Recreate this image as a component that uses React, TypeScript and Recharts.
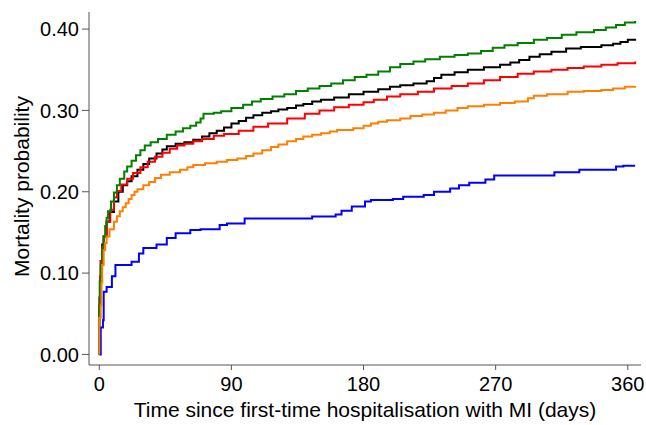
import { LineChart, Line, XAxis, YAxis } from "recharts";

const FONT = '"Liberation Sans", Arial, Helvetica, sans-serif';
const AXIS = "#555555";

const dayTicks = [0, 90, 180, 270, 360];
const riskTicks = [0, 0.1, 0.2, 0.3, 0.4];

// [day, cumulative mortality], step curves
const green: [number, number][] = [
  [0, 0], [0, 0.055], [0.3, 0.09], [1, 0.11], [2, 0.13], [3, 0.145], [4, 0.158], [5, 0.168],
  [6, 0.176], [8, 0.188], [10, 0.199], [12, 0.208], [14, 0.216], [17, 0.225], [19, 0.231],
  [22, 0.238], [25, 0.245], [28, 0.251], [31, 0.257], [35, 0.261], [40, 0.265], [46, 0.27],
  [52, 0.274], [57, 0.278], [62, 0.281], [66, 0.285], [69, 0.29], [71, 0.296], [78, 0.297],
  [83, 0.299], [90, 0.303], [98, 0.307], [104, 0.311], [110, 0.314], [118, 0.317], [126, 0.32],
  [134, 0.324], [142, 0.327], [150, 0.33], [158, 0.333], [166, 0.337], [174, 0.341], [182, 0.344],
  [190, 0.348], [198, 0.353], [205, 0.357], [214, 0.36], [222, 0.363], [232, 0.366], [242, 0.368],
  [251, 0.37], [260, 0.373], [268, 0.377], [276, 0.38], [285, 0.383], [296, 0.387], [305, 0.389],
  [315, 0.393], [325, 0.396], [337, 0.399], [345, 0.402], [352, 0.405], [358, 0.408], [365, 0.41],
];

const black: [number, number][] = [
  [0, 0], [0, 0.06], [0.5, 0.095], [1, 0.115], [2, 0.135], [3, 0.145], [5, 0.163], [7, 0.175],
  [10, 0.188], [13, 0.2], [16, 0.208], [19, 0.213], [22, 0.219], [26, 0.227], [30, 0.234],
  [34, 0.241], [39, 0.247], [43, 0.252], [46, 0.256], [52, 0.259], [58, 0.261], [64, 0.264],
  [70, 0.268], [75, 0.272], [80, 0.275], [85, 0.279], [90, 0.284], [95, 0.287], [100, 0.291],
  [105, 0.294], [111, 0.297], [117, 0.299], [122, 0.301], [128, 0.303], [134, 0.306], [139, 0.308],
  [145, 0.311], [151, 0.313], [160, 0.316], [170, 0.32], [180, 0.323], [190, 0.326], [198, 0.329],
  [205, 0.331], [214, 0.333], [223, 0.336], [228, 0.34], [233, 0.344], [242, 0.347], [251, 0.35],
  [262, 0.353], [273, 0.356], [280, 0.359], [286, 0.362], [293, 0.366], [300, 0.369], [308, 0.372],
  [318, 0.376], [328, 0.378], [342, 0.38], [350, 0.382], [355, 0.384], [360, 0.387], [365, 0.388],
];

const red: [number, number][] = [
  [0, 0], [0, 0.07], [0.5, 0.096], [1, 0.115], [2, 0.132], [3, 0.145], [5, 0.163], [7.5, 0.178],
  [10, 0.193], [12, 0.201], [15, 0.209], [19, 0.216], [23, 0.223], [28, 0.23], [33, 0.237],
  [38, 0.243], [43, 0.248], [48, 0.253], [53, 0.257], [58, 0.259], [64, 0.262], [70, 0.265],
  [78, 0.269], [85, 0.271], [95, 0.275], [105, 0.28], [115, 0.284], [128, 0.29], [140, 0.296],
  [150, 0.3], [160, 0.304], [170, 0.307], [180, 0.31], [187, 0.313], [196, 0.317], [205, 0.32],
  [217, 0.323], [228, 0.327], [240, 0.33], [251, 0.333], [262, 0.337], [273, 0.341], [285, 0.345],
  [296, 0.348], [308, 0.35], [319, 0.352], [330, 0.354], [342, 0.356], [353, 0.358], [365, 0.36],
];

const orange: [number, number][] = [
  [0, 0], [0, 0.045], [1, 0.06], [1.5, 0.088], [2, 0.11], [3, 0.128], [4, 0.137], [5, 0.145],
  [7, 0.154], [10, 0.163], [12, 0.17], [14, 0.176], [16, 0.181], [18, 0.186], [20, 0.191],
  [22, 0.196], [24, 0.2], [26, 0.203], [30, 0.208], [34, 0.212], [38, 0.217], [42, 0.221],
  [48, 0.224], [55, 0.227], [60, 0.23], [64, 0.233], [72, 0.235], [80, 0.237], [87, 0.239],
  [94, 0.241], [100, 0.244], [105, 0.247], [111, 0.251], [117, 0.255], [122, 0.258], [128, 0.262],
  [134, 0.265], [139, 0.268], [145, 0.27], [151, 0.272], [157, 0.274], [162, 0.276], [173, 0.278],
  [180, 0.281], [185, 0.284], [190, 0.286], [196, 0.288], [205, 0.29], [212, 0.293], [220, 0.295],
  [228, 0.297], [236, 0.3], [244, 0.303], [251, 0.305], [262, 0.307], [273, 0.309], [283, 0.311],
  [292, 0.315], [296, 0.318], [305, 0.32], [319, 0.323], [330, 0.324], [342, 0.325], [350, 0.327],
  [358, 0.329], [365, 0.33],
];

const blue: [number, number][] = [
  [0, 0], [1, 0], [1, 0.033], [2.5, 0.042], [3, 0.077], [5, 0.083], [8.6, 0.096], [11, 0.11],
  [22, 0.114], [27, 0.124], [30, 0.131], [39, 0.135], [46, 0.143], [52, 0.149], [62, 0.153],
  [69, 0.154], [82, 0.159], [87, 0.161], [99, 0.167], [145, 0.1695], [161, 0.172], [165, 0.1765],
  [172, 0.182], [181, 0.188], [185, 0.19], [200, 0.191], [207, 0.194], [221, 0.196], [228, 0.2],
  [239, 0.204], [245, 0.208], [252, 0.211], [263, 0.215], [269, 0.22], [310, 0.224], [327, 0.227],
  [352, 0.231], [357, 0.232], [365, 0.232],
];

const series = [
  { key: "black", color: "#000000", points: black },
  { key: "red", color: "#ff0000", points: red },
  { key: "green", color: "#008000", points: green },
  { key: "blue", color: "#0000ff", points: blue },
  { key: "orange", color: "#ff8000", points: orange },
];

function XTitle({ viewBox }: any) {
  const { x, y, width, height } = viewBox;
  return (
    <text x={x + width / 2} y={y + height - 8} textAnchor="middle" fontSize={21} fontFamily={FONT} fill="#000">
      Time since first-time hospitalisation with MI (days)
    </text>
  );
}

function YTitle({ viewBox }: any) {
  const { x, y, height } = viewBox;
  const cx = x + 20;
  const cy = y + height / 2 - 2;
  return (
    <text x={cx} y={cy} transform={`rotate(-90, ${cx}, ${cy})`} textAnchor="middle" fontSize={21} fontFamily={FONT} fill="#000">
      Mortality probability
    </text>
  );
}

export default function App() {
  return (
    <div style={{ position: "absolute", left: 0, top: 0, background: "#fff" }}>
      <LineChart width={646} height={425} margin={{ top: 12, right: 5, left: 9, bottom: 0 }}>
        <XAxis
          type="number"
          dataKey="day"
          domain={[-7, 369]}
          ticks={dayTicks}
          allowDataOverflow
          height={60}
          stroke={AXIS}
          tickSize={5}
          tickMargin={7}
          tick={{ fontSize: 20, fill: "#000", fontFamily: FONT }}
          label={<XTitle />}
        />
        <YAxis
          type="number"
          domain={[-0.013, 0.421]}
          ticks={riskTicks}
          allowDataOverflow
          width={80}
          stroke={AXIS}
          tickSize={7}
          tickMargin={3}
          tickFormatter={(v: number) => v.toFixed(2)}
          tick={{ fontSize: 20, fill: "#000", fontFamily: FONT }}
          label={<YTitle />}
        />
        {series.map((s) => (
          <Line
            key={s.key}
            data={s.points.map(([day, risk]) => ({ day, risk }))}
            dataKey="risk"
            type="stepAfter"
            stroke={s.color}
            strokeWidth={2}
            dot={false}
            activeDot={false}
            isAnimationActive={false}
          />
        ))}
      </LineChart>
    </div>
  );
}
